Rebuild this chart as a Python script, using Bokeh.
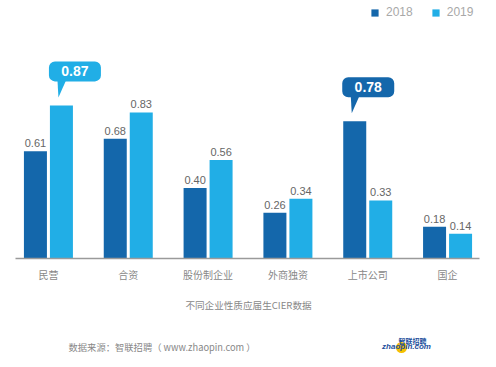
from bokeh.plotting import figure
from bokeh.models import Legend, LegendItem, ColumnDataSource, Range1d
from bokeh.embed import file_html
from bokeh.resources import INLINE
from bokeh.core.properties import value

# ---- data ----
categories = ["民营", "合资", "股份制企业", "外商独资", "上市公司", "国企"]
v2018 = [0.61, 0.68, 0.40, 0.26, 0.78, 0.18]
v2019 = [0.87, 0.83, 0.56, 0.34, 0.33, 0.14]
series = ["2018", "2019"]
callouts = [("2019", 0), ("2018", 4)]   # (series, category index) highlighted
subtitle = "不同企业性质应届生CIER数据"
source_text = "数据来源：智联招聘（ www.zhaopin.com ）"

# ---- style / geometry ----
C18 = "#1467ab"
C19 = "#21aee6"
colors = {"2018": C18, "2019": C19}
W, H = 480, 358
AX_L, AX_R = 15, 479          # axis line extent (px)
BASE = 258                     # baseline (px from top)
PXX = (AX_R - AX_L) / (5.4 + 0.4125)
PXY = 176.0
X0 = -0.4125 - AX_L / PXX
X1 = X0 + W / PXX
Y1 = BASE / PXY
Y0 = Y1 - H / PXY


def px2x(px):
    return X0 + px / PXX


def px2y(py):
    return Y1 - py / PXY


DODGE = 13 / PXX
BW = 23 / PXX

p = figure(width=W, height=H, output_backend="svg", toolbar_location=None,
           x_range=Range1d(X0, X1), y_range=Range1d(Y0, Y1),
           min_border_left=0, min_border_right=0, min_border_top=0,
           min_border_bottom=0, tools="", x_axis_location=None,
           y_axis_location=None)
p.title.visible = False
p.outline_line_color = None
p.grid.visible = False
p.background_fill_color = "white"
p.border_fill_color = "white"

idx = list(range(len(categories)))
src = ColumnDataSource(dict(
    x18=[i - DODGE for i in idx], x19=[i + DODGE for i in idx],
    v18=v2018, v19=v2019,
))
r18 = p.vbar(x="x18", top="v18", width=BW, bottom=0, source=src,
             fill_color=C18, line_color=None)
r19 = p.vbar(x="x19", top="v19", width=BW, bottom=0, source=src,
             fill_color=C19, line_color=None)

# baseline (category axis line)
p.segment(x0=[px2x(AX_L)], y0=[0], x1=[px2x(AX_R)], y1=[0],
          line_color="#9a9a9a", line_width=1.5)
# category labels
p.text(x=idx, y=[0] * len(idx), text=categories, text_align="center",
       text_baseline="top", y_offset=8, text_font=value("Noto Sans CJK SC"),
       text_font_size="10px", text_color="#888888")

# value labels (skip highlighted ones)
hl = set(callouts)
for s in series:
    vals = v2018 if s == "2018" else v2019
    xs = [i - DODGE if s == "2018" else i + DODGE for i in idx]
    keep = [i for i in idx if (s, i) not in hl]
    p.text(x=[xs[i] for i in keep], y=[vals[i] for i in keep],
           text=["%.2f" % vals[i] for i in keep],
           text_align="center", text_baseline="bottom", y_offset=-4,
           text_font=value("Liberation Sans"), text_font_size="11px",
           text_color="#666666")

# callouts
for s, i in callouts:
    vals = v2018 if s == "2018" else v2019
    xc = i - DODGE if s == "2018" else i + DODGE
    v = vals[i]
    col = colors[s]
    bx = xc + 13.5 / PXX
    by = v + 34 / PXY
    p.patch(x=[xc - 4 / PXX, xc + 5 / PXX, xc - 3 / PXX],
            y=[v + 26 / PXY, v + 26 / PXY, v + 8 / PXY],
            fill_color=col, line_color=None)
    p.rect(x=[bx], y=[by], width=52, height=20, width_units="screen",
           height_units="screen", fill_color=col, line_color=None,
           border_radius=6)
    p.text(x=[bx], y=[by], text=["%.2f" % v], text_align="center",
           text_baseline="middle", text_font=value("Liberation Sans"),
           text_font_style="bold", text_font_size="14px", text_color="white")

# legend
legend = Legend(items=[LegendItem(label=series[0], renderers=[r18]),
                       LegendItem(label=series[1], renderers=[r19])],
                orientation="horizontal", location=(370, H - 19),
                glyph_width=9, glyph_height=9, label_height=12,
                label_standoff=7, spacing=18, padding=0, margin=0,
                border_line_color=None, background_fill_alpha=0,
                label_text_font="Liberation Sans", label_text_font_size="12px",
                label_text_color="#a8a8a8")
p.add_layout(legend, "center")

# subtitle & source
p.text(x=[px2x(248)], y=[px2y(304)], text=[subtitle], text_align="center",
       text_baseline="middle", text_font=value("Noto Sans CJK SC"),
       text_font_size="9.6px", text_color="#888888")
p.text(x=[px2x(68)], y=[px2y(346)], text=[source_text], text_align="left",
       text_baseline="middle", text_font=value("Noto Sans CJK SC"),
       text_font_size="9.3px", text_color="#888888")
# logo
p.scatter(x=[px2x(401)], y=[px2y(347)], size=11, marker="circle",
          fill_color="#f5c000", line_color=None)
p.text(x=[px2x(406)], y=[px2y(346)], text=["zhaopin.com"], text_align="center",
       text_baseline="middle", text_font=value("Liberation Sans"),
       text_font_style="bold italic", text_font_size="8px",
       text_color="#1c4f9c")
p.text(x=[px2x(412)], y=[px2y(340)], text=["智联招聘"], text_align="center",
       text_baseline="middle", text_font=value("Noto Sans CJK SC"),
       text_font_style="bold", text_font_size="7px", text_color="#1c4f9c")

open("out.html", "w").write(file_html(p, INLINE))
